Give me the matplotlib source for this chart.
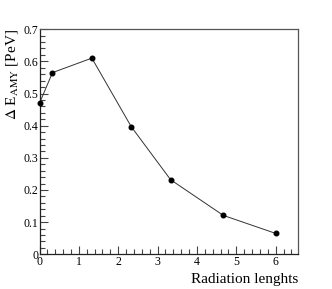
import matplotlib
matplotlib.use('Agg')
from matplotlib import pyplot as plt
from matplotlib.ticker import MultipleLocator

# 辐射长度
radiation_lengths = [0.0, 0.33, 1.33, 2.33, 3.33, 4.67, 6.0]
# 能量损失
delta_e = [0.47, 0.565, 0.61, 0.397, 0.232, 0.121, 0.065]

plt.rcParams['font.family'] = ['Liberation Serif', 'DejaVu Serif']
plt.rcParams['mathtext.fontset'] = 'stix'

fig = plt.figure(figsize=(3.32, 2.89), dpi=100)
ax = fig.add_axes([0.119, 0.12, 0.779, 0.779])

ax.plot(radiation_lengths, delta_e, color='#333333', lw=0.7, clip_on=False, zorder=5,
        marker='o', markersize=3.3, markerfacecolor='black', markeredgecolor='black')

ax.set_xlim(0, 6.57)
ax.set_ylim(0, 0.7)
ax.xaxis.set_major_locator(MultipleLocator(1))
ax.xaxis.set_minor_locator(MultipleLocator(0.2))
ax.yaxis.set_major_locator(MultipleLocator(0.1))
ax.yaxis.set_minor_locator(MultipleLocator(0.02))
ax.set_yticks([0, 0.1, 0.2, 0.3, 0.4, 0.5, 0.6, 0.7])
ax.set_yticklabels(['0', '0.1', '0.2', '0.3', '0.4', '0.5', '0.6', '0.7'])

ax.tick_params(which='both', direction='in', top=False, right=False, labelsize=8.5,
               colors='#444444', labelcolor='black', pad=1)
ax.tick_params(which='major', length=6, width=0.8)
ax.tick_params(which='minor', length=3.5, width=0.8)
for s in ax.spines.values():
    s.set_linewidth(0.9)
    s.set_color('#555555')
ax.spines['left'].set_color('#222222')
ax.spines['bottom'].set_color('#222222')

ax.set_xlabel('Radiation lenghts', fontsize=11, ha='right', x=1.0, labelpad=4)
ax.set_ylabel(r'$\Delta$ E$_{\mathrm{AMY}}$ [PeV]', fontsize=11, ha='right', y=1.0, labelpad=2)

plt.savefig('out.png', dpi=100)
